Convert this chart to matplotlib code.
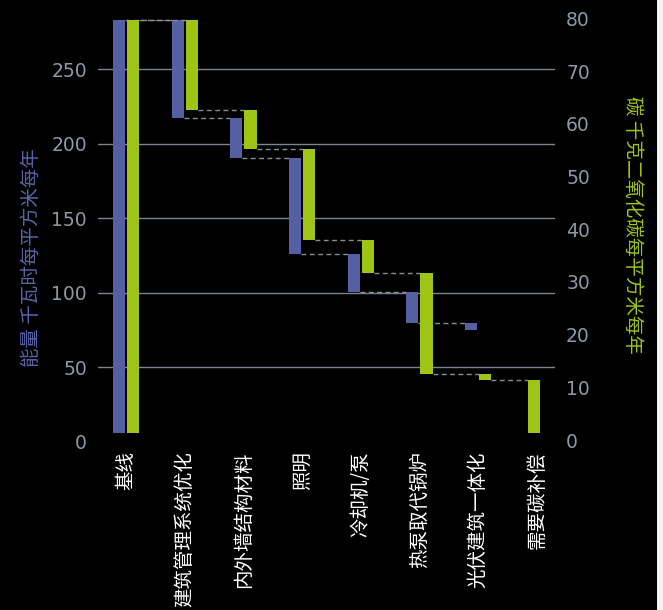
import matplotlib
matplotlib.use("Agg")
import matplotlib.pyplot as plt
from matplotlib.patches import Rectangle
import numpy as np

# ---------------- data ----------------
categories = ["基线", "建筑管理系统优化", "内外墙结构材料", "照明", "冷却机/泵",
              "热泵取代锅炉", "光伏建筑一体化", "需要碳补偿"]
# energy (kWh/m2/yr): bar top and bottom for each step (None = no bar)
energy_high = [283.0, 283.0, 216.8, 190.5, 126.0, 100.4, 79.4, None]
energy_low = [6.0, 216.8, 190.5, 126.0, 100.4, 79.4, 75.0, None]
# carbon (kgCO2/m2/yr)
carbon_high = [79.7, 79.7, 62.7, 55.3, 38.0, 31.6, 12.5, 11.4]
carbon_low = [1.4, 62.7, 55.3, 38.0, 31.6, 12.5, 11.4, 1.4]

energy_ticks = [0, 50, 100, 150, 200, 250]
carbon_ticks = [0, 10, 20, 30, 40, 50, 60, 70, 80]

# ---------------- style ----------------
BG = "#000000"
BLUE = "#5560a4"
GREEN = "#9ec416"
TICK = "#8e99a3"
GRID = "#7c848e"
CONN = "#8a8f96"
CJK = ["Noto Sans CJK SC", "DejaVu Sans"]

W, H = 663, 610
fig = plt.figure(figsize=(W / 100, H / 100), dpi=100, facecolor=BG)

ax_l, ax_r, ax_t, ax_b = 98, 555, 10, 441.6
ax = fig.add_axes([ax_l / W, 1 - ax_b / H, (ax_r - ax_l) / W, (ax_b - ax_t) / H])
ax.set_facecolor(BG)
ax2 = ax.twinx()

ax.set_ylim(0, 289.6)
ax2.set_ylim(-0.30, 81.58)
n = len(categories)
ax.set_xlim(-0.48, n - 1 + 0.31)

bw = 0.205   # bar width in category units
gap = 0.034  # gap between pair
x = np.arange(n)

def dashed(a, x0, x1, y):
    a.plot([x0, x1], [y, y], color=CONN, lw=1.0, ls=(0, (3.5, 2.5)), zorder=1)

# blue bars + connectors
for i in range(n):
    if energy_high[i] is None:
        continue
    xl = x[i] - gap / 2 - bw
    ax.bar(xl, energy_high[i] - energy_low[i], bottom=energy_low[i], width=bw,
           align="edge", color=BLUE, zorder=3, linewidth=0)
    if i + 1 < n and energy_high[i + 1] is not None:
        end = energy_high[i] if i == 0 else energy_low[i]
        dashed(ax, xl + bw, x[i + 1] - gap / 2 - bw, end)

# green bars + connectors
green_left = []
for i in range(n):
    if energy_high[i] is None:
        xl = x[i] - bw / 2 - 0.04
    else:
        xl = x[i] + gap / 2
    green_left.append(xl)
for i in range(n):
    xl = green_left[i]
    ax2.bar(xl, carbon_high[i] - carbon_low[i], bottom=carbon_low[i], width=bw,
            align="edge", color=GREEN, zorder=3, linewidth=0)
    if i + 1 < n:
        end = carbon_high[i] if i == 0 else carbon_low[i]
        dashed(ax2, xl + bw, green_left[i + 1], end)

# grid & ticks
ax.set_yticks(energy_ticks)
ax.set_yticklabels([str(t) for t in energy_ticks])
ax2.set_yticks(carbon_ticks)
ax2.set_yticklabels([str(t) for t in carbon_ticks])
ax.yaxis.grid(True, color=GRID, lw=1.0)
ax.get_ygridlines()[0].set_visible(False)
ax.set_axisbelow(True)
ax.tick_params(axis="y", length=0, pad=8, labelsize=13.5, labelcolor=TICK)
ax2.tick_params(axis="y", length=0, pad=8, labelsize=13.5, labelcolor=TICK)

ax.set_xticks(x)
ax.set_xticklabels(categories, rotation=90, fontfamily=CJK, fontsize=14,
                   color="white", va="top", ha="center")
ax.tick_params(axis="x", length=0, pad=7)

for a in (ax, ax2):
    for s in a.spines.values():
        s.set_visible(False)

# axis titles
fig.text(31.7 / W, 1 - 258 / H, "能量 千瓦时每平方米每年", rotation=90,
         color="#5a64a8", fontsize=14, fontfamily=CJK, ha="center", va="center")
fig.text(632.7 / W, 1 - 225 / H, "碳 千克二氧化碳每平方米每年", rotation=270,
         color=GREEN, fontsize=14, fontfamily=CJK, ha="center", va="center")

# light strip at right edge of the image
fig.patches.append(Rectangle((657 / W, 0), 6 / W, 1, transform=fig.transFigure,
                             facecolor="#f4f4f4", edgecolor="none", zorder=10))

fig.savefig("out.png", dpi=100, facecolor=BG)
